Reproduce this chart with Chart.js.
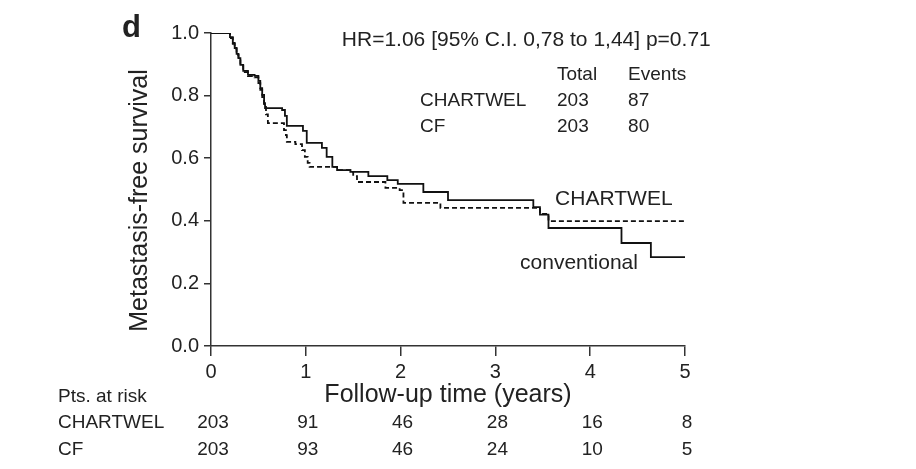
<!DOCTYPE html>
<html>
<head>
<meta charset="utf-8">
<script src="https://cdn.jsdelivr.net/npm/chart.js@4"></script>
<style>
  html, body { margin: 0; padding: 0; background: #fff; }
  #wrap { width: 916px; height: 469px; }
</style>
</head>
<body>
<div id="wrap"><canvas id="kmChart" width="916" height="469"></canvas></div>
<script>
// Kaplan-Meier steps
const cfTime = [0, 0.16, 0.20, 0.23, 0.25, 0.27, 0.29, 0.31, 0.34, 0.39, 0.46, 0.50, 0.52, 0.54, 0.56, 0.57, 0.75, 0.78, 0.80, 0.97, 1.01, 1.17, 1.22, 1.28, 1.33, 1.47, 1.66, 1.86, 1.97, 2.24, 2.50, 3.40, 3.47, 3.56, 4.33, 4.64, 5.0];
const cfSurv = [1.0, 1.0, 0.987, 0.968, 0.952, 0.933, 0.920, 0.898, 0.879, 0.866, 0.863, 0.847, 0.824, 0.802, 0.776, 0.760, 0.754, 0.735, 0.703, 0.687, 0.649, 0.633, 0.604, 0.572, 0.562, 0.556, 0.543, 0.530, 0.518, 0.492, 0.466, 0.444, 0.420, 0.377, 0.329, 0.284, 0.284];

const chTime = [0, 0.16, 0.20, 0.23, 0.25, 0.27, 0.29, 0.31, 0.34, 0.39, 0.46, 0.50, 0.52, 0.54, 0.56, 0.58, 0.60, 0.77, 0.79, 0.80, 0.89, 0.96, 0.99, 1.02, 1.04, 1.33, 1.47, 1.50, 1.54, 1.84, 1.99, 2.03, 2.42, 3.47, 3.56, 5.0];
const chSurv = [1.0, 1.0, 0.984, 0.965, 0.950, 0.930, 0.915, 0.895, 0.875, 0.862, 0.858, 0.840, 0.818, 0.795, 0.768, 0.740, 0.712, 0.690, 0.674, 0.652, 0.645, 0.626, 0.604, 0.585, 0.572, 0.562, 0.556, 0.543, 0.524, 0.505, 0.498, 0.457, 0.441, 0.422, 0.399, 0.399];

// numbers at risk
const riskTimes = [0, 1, 2, 3, 4, 5];
const riskCh = [203, 91, 46, 28, 16, 8];
const riskCf = [203, 93, 46, 24, 10, 5];

// summary
const groups = ["CHARTWEL", "CF"];
const totals = [203, 203];
const events = [87, 80];
const hrText = "HR=1.06 [95% C.I. 0,78 to 1,44] p=0.71";
const yTitle = "Metastasis-free survival";

const FONT = "'Liberation Sans', Arial, sans-serif";
const INK = "#222";

const toPts = (t, s) => t.map((v, i) => ({ x: v, y: s[i] }));

const textPlugin = {
  id: 'kmText',
  afterDraw(chart) {
    const ctx = chart.ctx;
    const xs = chart.scales.x, ys = chart.scales.y;
    const X = v => xs.getPixelForValue(v);
    const Y = v => ys.getPixelForValue(v);
    ctx.save();
    ctx.fillStyle = INK;
    ctx.textBaseline = 'middle';

    // panel letter
    ctx.font = "bold 31px " + FONT;
    ctx.textAlign = 'left';
    ctx.fillText("d", 122, 28);

    // y axis title (sits a bit below the axis centre in the original)
    ctx.save();
    ctx.font = "25px " + FONT;
    ctx.textAlign = 'center';
    ctx.translate(140, Y(0.465));
    ctx.rotate(-Math.PI / 2);
    ctx.fillText(yTitle, 0, 0);
    ctx.restore();

    // HR line
    ctx.font = "21px " + FONT;
    ctx.fillText(hrText, X(1.38), Y(0.977));

    // totals / events table
    ctx.font = "19px " + FONT;
    ctx.textAlign = 'left';
    ctx.fillText("Total", X(3.65), Y(0.867));
    ctx.fillText("Events", X(4.4), Y(0.867));
    groups.forEach((g, i) => {
      const yy = Y(0.784 - i * 0.083);
      ctx.fillText(g, X(2.205), yy);
      ctx.fillText(String(totals[i]), X(3.65), yy);
      ctx.fillText(String(events[i]), X(4.4), yy);
    });

    // curve labels
    ctx.font = "21px " + FONT;
    ctx.fillText("CHARTWEL", X(3.63), Y(0.468));
    ctx.fillText("conventional", X(3.26), Y(0.266));

    // risk table
    ctx.font = "19px " + FONT;
    ctx.fillText("Pts. at risk", 58, 397);
    ctx.fillText(groups[0], 58, 423);
    ctx.fillText(groups[1], 58, 450);
    ctx.textAlign = 'center';
    riskTimes.forEach((t, i) => {
      ctx.fillText(String(riskCh[i]), X(t) + 2, 423);
      ctx.fillText(String(riskCf[i]), X(t) + 2, 450);
    });
    ctx.restore();
  }
};

new Chart("kmChart", {
  type: "line",
  data: {
    datasets: [{
      label: "conventional",
      data: toPts(cfTime, cfSurv),
      borderColor: "#111",
      borderWidth: 1.8,
      stepped: 'before',
      pointRadius: 0,
      fill: false
    }, {
      label: "CHARTWEL",
      data: toPts(chTime, chSurv),
      borderColor: "#111",
      borderWidth: 1.8,
      borderDash: [5, 3],
      stepped: 'before',
      pointRadius: 0,
      fill: false
    }]
  },
  options: {
    responsive: false,
    animation: false,
    layout: { padding: { left: 127, right: 231, top: 33, bottom: 59 } },
    plugins: { legend: { display: false }, tooltip: { enabled: false } },
    scales: {
      x: {
        type: 'linear',
        min: 0, max: 5,
        afterFit: s => { s.height = 64; },
        ticks: { stepSize: 1, color: INK, font: { family: FONT, size: 20 }, padding: 4, maxRotation: 0 },
        grid: { drawOnChartArea: false, tickLength: 10, color: "#333", lineWidth: 1.5 },
        border: { color: "#333", width: 1.5 },
        title: { display: true, text: "Follow-up time (years)", color: INK, font: { family: FONT, size: 25 }, padding: 0 }
      },
      y: {
        min: 0, max: 1,
        afterFit: s => { s.width = 84; },
        ticks: { stepSize: 0.2, color: INK, font: { family: FONT, size: 20 }, padding: 5, callback: v => v.toFixed(1) },
        grid: { drawOnChartArea: false, tickLength: 7, color: "#333", lineWidth: 1.5 },
        border: { color: "#333", width: 1.5 },
        title: { display: false }
      }
    }
  },
  plugins: [textPlugin]
});
</script>
</body>
</html>
